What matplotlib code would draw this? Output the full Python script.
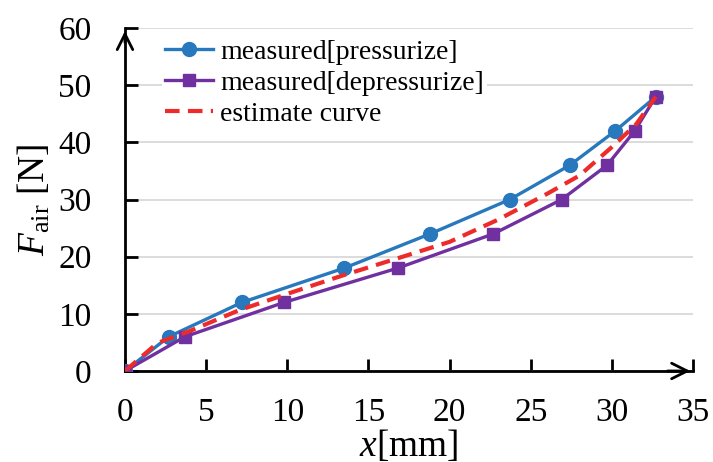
import matplotlib
matplotlib.use("Agg")
import matplotlib.pyplot as plt

# data
x_press = [0, 2.7, 7.2, 13.5, 18.8, 23.7, 27.4, 30.2, 32.7]
y_press = [0, 6, 12, 18, 24, 30, 36, 42, 48]
x_depress = [0, 3.7, 9.8, 16.8, 22.7, 26.9, 29.7, 31.4, 32.7]
y_depress = [0, 6, 12, 18, 24, 30, 36, 42, 48]
x_est = [0, 2, 4, 7, 10, 13.5, 17, 20, 23, 26, 28, 30, 31.5, 32.7]
y_est = [0, 4.9, 7.0, 10.6, 13.5, 16.8, 19.9, 22.6, 26.5, 31, 34.2, 39.2, 43.2, 48]
xticks = [0, 5, 10, 15, 20, 25, 30, 35]
yticks = [0, 10, 20, 30, 40, 50, 60]

plt.rcParams['font.family'] = ['Liberation Serif', 'DejaVu Serif']
plt.rcParams['mathtext.fontset'] = 'custom'
plt.rcParams['mathtext.rm'] = 'Liberation Serif'
plt.rcParams['mathtext.it'] = 'Liberation Serif:italic'

fig = plt.figure(figsize=(7.13, 4.62), dpi=100)
ax = fig.add_axes([0.1753, 0.197, 0.7967, 0.742])

blue = '#2878BE'
purple = '#7030A0'
red = '#EE2B2B'

ax.plot(x_press, y_press, color=blue, lw=2.4, marker='o', ms=10,
        label='measured[pressurize]', zorder=3)
ax.plot(x_depress, y_depress, color=purple, lw=2.4, marker='s', ms=9,
        label='measured[depressurize]', zorder=4)
ax.plot(x_est, y_est, color=red, lw=3, ls=(0, (3.5, 2)),
        label='estimate curve', zorder=5)

ax.set_xlim(0, 35)
ax.set_ylim(0, 60)
ax.set_xticks(xticks)
ax.set_yticks(yticks)
ax.grid(axis='y', color='#d9d9d9', lw=1.3)
ax.set_axisbelow(True)
for s in ['top', 'right']:
    ax.spines[s].set_visible(False)
for s in ['left', 'bottom']:
    ax.spines[s].set_linewidth(2)
ax.tick_params(direction='in', length=9, width=2, labelsize=24)
ax.tick_params(axis='y', pad=24)
ax.tick_params(axis='x', pad=19)

# arrow heads on the axes
ax.annotate('', xy=(1.0, 0), xytext=(0.95, 0), xycoords='axes fraction',
            arrowprops=dict(arrowstyle='->', lw=2, mutation_scale=28, color='black'))
ax.annotate('', xy=(0, 1.0), xytext=(0, 0.95), xycoords='axes fraction',
            arrowprops=dict(arrowstyle='->', lw=2, mutation_scale=28, color='black'))

ax.set_xlabel(r'$x$[mm]', fontsize=27)
ax.set_ylabel(r'$F_{\mathrm{air}}$ [N]', fontsize=27)
ax.xaxis.set_label_coords(0.5, -0.165)
ax.yaxis.set_label_coords(-0.127, 0.5)

leg = ax.legend(loc='upper left', bbox_to_anchor=(0.065, 0.975), frameon=True,
                fontsize=20, handlelength=1.75, handletextpad=0.25,
                labelspacing=0.2, borderpad=0.1, borderaxespad=0.0)
leg.get_frame().set_edgecolor('none')
leg.get_frame().set_facecolor('white')
leg.get_frame().set_alpha(1)

fig.savefig('out.png', dpi=100)
